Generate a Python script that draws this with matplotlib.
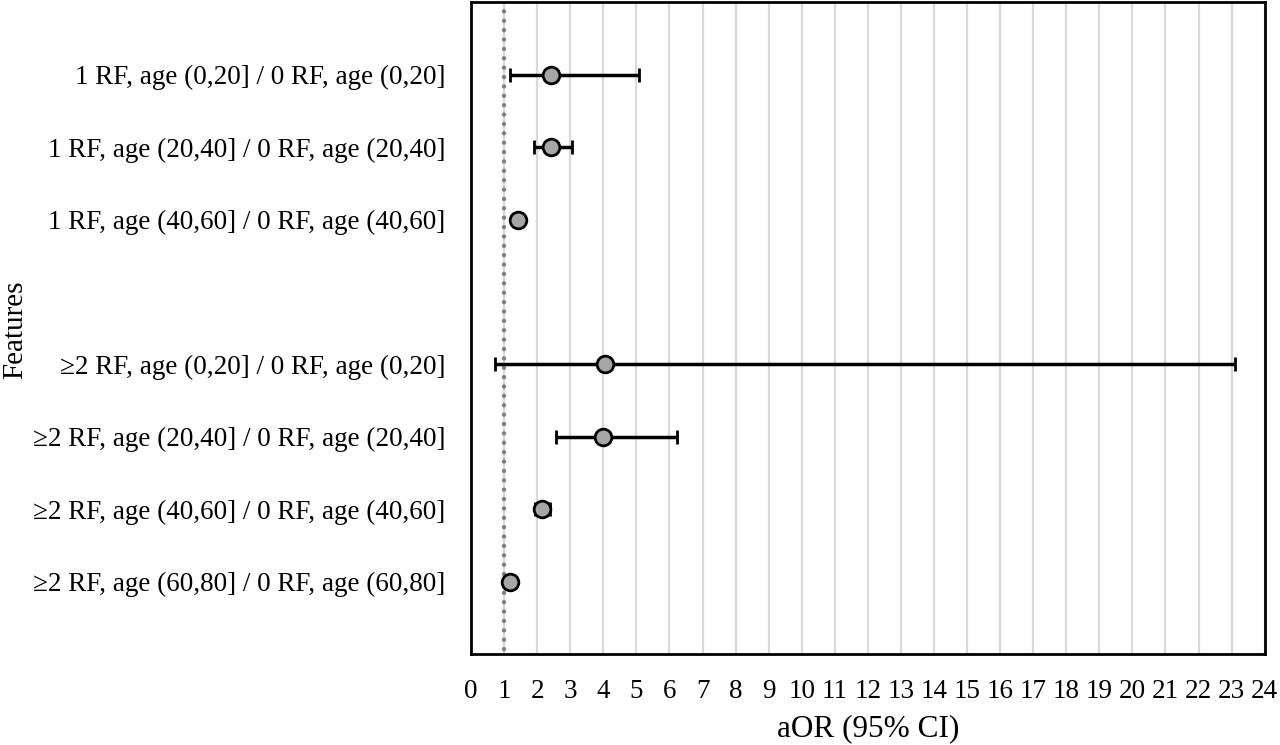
import numpy as np
import matplotlib.pyplot as plt

plt.rcParams['font.family'] = ['Liberation Serif', 'DejaVu Serif']

labels = [
    "1 RF, age (0,20] / 0 RF, age (0,20]",
    "1 RF, age (20,40] / 0 RF, age (20,40]",
    "1 RF, age (40,60] / 0 RF, age (40,60]",
    "",
    "\u22652 RF, age (0,20] / 0 RF, age (0,20]",
    "\u22652 RF, age (20,40] / 0 RF, age (20,40]",
    "\u22652 RF, age (40,60] / 0 RF, age (40,60]",
    "\u22652 RF, age (60,80] / 0 RF, age (60,80]",
]
aor = [2.42, 2.42, 1.42, np.nan, 4.05, 3.99, 2.15, 1.18]
lower = [1.18, 1.90, 1.30, np.nan, 0.73, 2.57, 1.93, 1.10]
upper = [5.08, 3.05, 1.55, np.nan, 23.1, 6.22, 2.39, 1.27]

aor = np.array(aor)
lower = np.array(lower)
upper = np.array(upper)
ypos = np.arange(len(labels))

fig = plt.figure(figsize=(12.8, 7.45), dpi=100)
ax = fig.add_axes([0.368, 0.122, 0.62, 0.875])

ax.set_xlim(0, 24)
ax.set_ylim(8, -1)
ax.set_xticks(range(0, 25))
ax.grid(axis='x', color='#d9d9d9', linewidth=1.6, zorder=0)

# reference line at aOR = 1, round gray dots
ax.plot([1, 1], [-1, 8], color='#808080', linewidth=3.2,
        linestyle=(0, (0.01, 2.1)), dash_capstyle='round', zorder=2)

m = ~np.isnan(aor)
ax.errorbar(aor[m], ypos[m], xerr=[aor[m] - lower[m], upper[m] - aor[m]],
            fmt='o', color='black', ecolor='black', elinewidth=2.5,
            capsize=5, capthick=2.5, markersize=12, markerfacecolor='#a6a6a6',
            markeredgecolor='black', markeredgewidth=2, zorder=3)

ax.set_yticks(ypos)
ax.set_yticklabels(labels)
ax.tick_params(axis='y', length=0, pad=18.5, labelsize=19.5)
ax.tick_params(axis='x', length=0, pad=18, labelsize=19.5)

for s in ax.spines.values():
    s.set_linewidth(2)

ax.set_xlabel("aOR (95% CI)", fontsize=22.5, labelpad=7)
fig.text(0.002, 1 - 330 / 745, "Features", rotation=90, fontsize=21,
         va='center', ha='left')

fig.savefig("out.png", dpi=100)
